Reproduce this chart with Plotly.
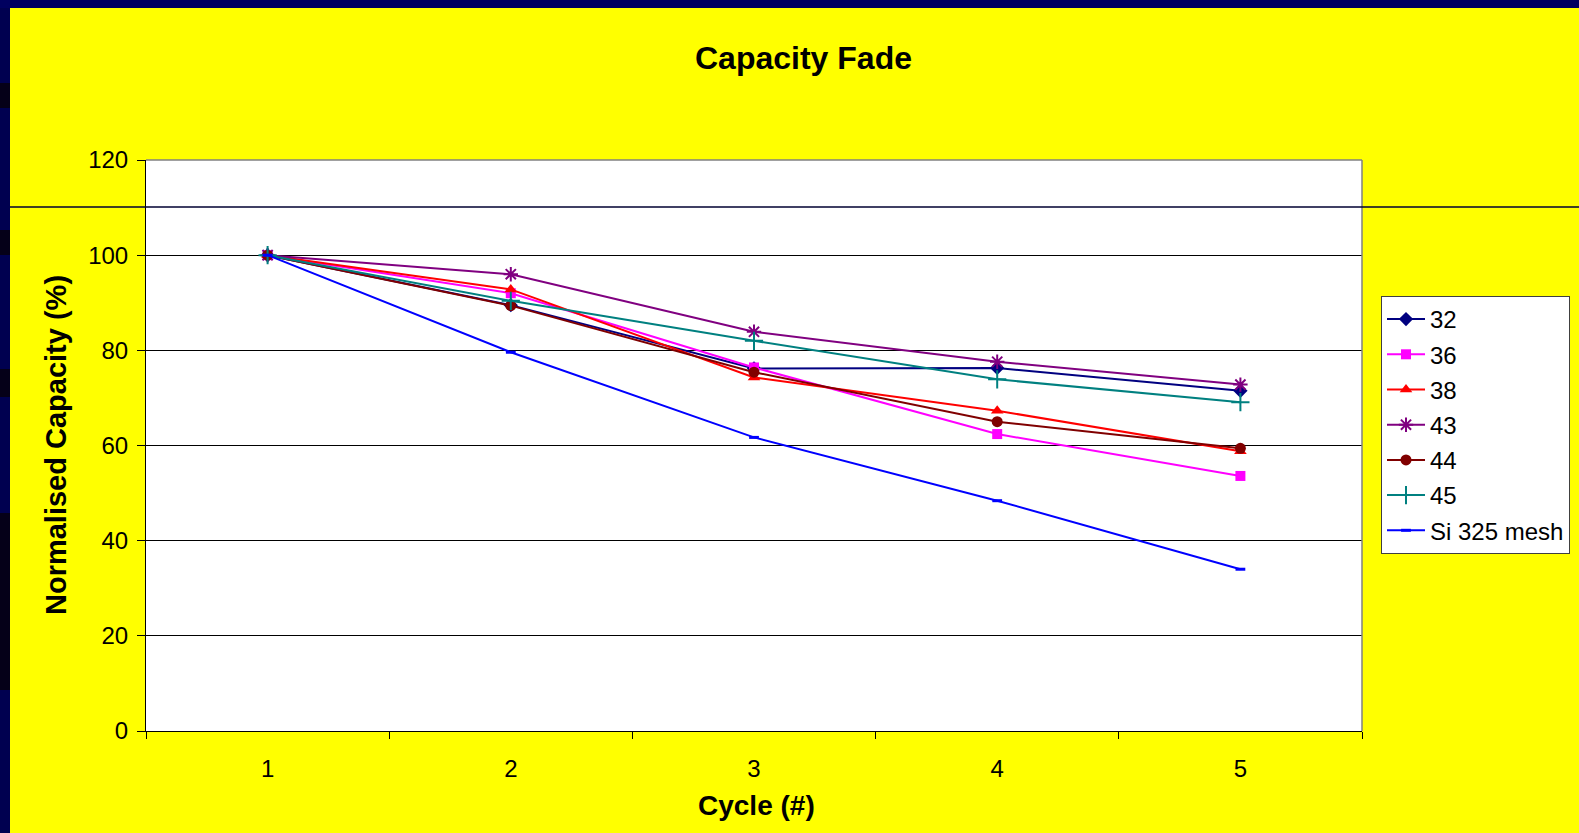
import plotly.graph_objects as go

cycles = [1, 2, 3, 4, 5]
series_names = ["32", "36", "38", "43", "44", "45", "Si 325 mesh"]
s32 = [100, 89.5, 76.2, 76.3, 71.5]
s36 = [100, 92.0, 76.4, 62.4, 53.6]
s38 = [100, 92.8, 74.3, 67.3, 58.8]
s43 = [100, 96.0, 83.9, 77.6, 72.8]
s44 = [100, 89.4, 75.4, 65.0, 59.4]
s45 = [100, 90.4, 82.0, 73.9, 69.1]
si325 = [100, 79.6, 61.7, 48.4, 34.0]
y_ticks = [0, 20, 40, 60, 80, 100, 120]

values = [s32, s36, s38, s43, s44, s45, si325]
colors = ["#000080", "#FF00FF", "#FF0000", "#800080", "#800000", "#008080", "#0000FF"]
markers = [
    dict(symbol="diamond", size=11),
    dict(symbol="square", size=10),
    dict(symbol="triangle-up", size=11),
    dict(symbol="asterisk-open", size=12, line=dict(width=2)),
    dict(symbol="circle", size=11),
    dict(symbol="cross-thin-open", size=13, line=dict(width=2)),
    dict(symbol="line-ew-open", size=7, line=dict(width=3)),
]

W, H = 1579, 833
L, R, T, B = 146, 1362, 160, 731
pw, ph = R - L, B - T

def px_x(x):
    return (x - L) / pw

def px_y(y):
    return (B - y) / ph

FONT = "Arial, Liberation Sans, sans-serif"

fig = go.Figure()
for name, vals, col, mk in zip(series_names, values, colors, markers):
    m = dict(mk)
    m["color"] = col
    if "line" in m:
        m["line"] = dict(m["line"], color=col)
    fig.add_trace(go.Scatter(
        x=cycles, y=vals, name=name, mode="lines+markers", legendgroup=name,
        line=dict(color=col, width=2), marker=m,
    ))

shapes = [
    # navy slide border
    dict(type="rect", xref="paper", yref="paper", x0=px_x(-5), x1=px_x(10), y0=px_y(H + 5), y1=px_y(-5),
         fillcolor="#000050", line=dict(width=0), layer="below"),
    dict(type="rect", xref="paper", yref="paper", x0=px_x(-5), x1=px_x(W + 5), y0=px_y(8), y1=px_y(-5),
         fillcolor="#00005F", line=dict(width=0), layer="below"),
]
for y0, y1 in [(83, 108), (230, 255), (369, 397), (513, 690)]:
    shapes.append(dict(type="rect", xref="paper", yref="paper", x0=px_x(-5), x1=px_x(10),
                       y0=px_y(y1), y1=px_y(y0), fillcolor="#050018", line=dict(width=0), layer="below"))
# plot area grey border (top, right)
shapes.append(dict(type="line", xref="paper", yref="paper", x0=0, x1=1, y0=1, y1=1,
                   line=dict(color="#808080", width=1.5), layer="above"))
shapes.append(dict(type="line", xref="paper", yref="paper", x0=1, x1=1, y0=0, y1=1,
                   line=dict(color="#808080", width=1.5), layer="above"))
# horizontal slide line
shapes.append(dict(type="line", xref="paper", yref="paper", x0=px_x(10), x1=px_x(W + 5),
                   y0=px_y(207), y1=px_y(207), line=dict(color="#000030", width=1.5), layer="above"))

annotations = [
    dict(text="<b>Capacity Fade</b>", xref="paper", yref="paper", x=px_x(803), y=px_y(58),
         xanchor="center", yanchor="middle", showarrow=False, font=dict(family=FONT, size=32, color="black")),
    dict(text="<b>Cycle (#)</b>", xref="paper", yref="paper", x=px_x(756), y=px_y(805),
         xanchor="center", yanchor="middle", showarrow=False, font=dict(family=FONT, size=28, color="black")),
    dict(text="<b>Normalised Capacity (%)</b>", xref="paper", yref="paper", x=px_x(56), y=px_y(445),
         xanchor="center", yanchor="middle", textangle=-90, showarrow=False,
         font=dict(family=FONT, size=29, color="black")),
]

fig.update_layout(
    width=W, height=H,
    margin=dict(l=L, r=W - R, t=T, b=H - B, pad=0, autoexpand=False),
    paper_bgcolor="#FFFF00",
    plot_bgcolor="#FFFFFF",
    font=dict(family=FONT, size=24, color="black"),
    showlegend=True,
    legend=dict(x=px_x(1381), y=px_y(296), xanchor="left", yanchor="top",
                bgcolor="white", bordercolor="#404040", borderwidth=1, tracegroupgap=1,
                font=dict(family=FONT, size=24, color="black"), itemwidth=38),
    shapes=shapes,
    annotations=annotations,
)
fig.update_xaxes(
    range=[0.5, 5.5], tickmode="array", tickvals=cycles, ticktext=[str(c) for c in cycles],
    ticks="", showgrid=False, zeroline=False, showline=True, linecolor="black", linewidth=1,
    ticklabelstandoff=16,
    minor=dict(tickmode="linear", tick0=0.5, dtick=1, ticks="outside", ticklen=7, tickcolor="black",
               tickwidth=1, showgrid=False),
)
fig.update_yaxes(
    range=[0, 120], tickmode="array", tickvals=y_ticks, ticks="outside", ticklen=8, tickcolor="black",
    showgrid=True, gridcolor="black", gridwidth=1, zeroline=False, showline=True, linecolor="black",
    linewidth=1, ticklabelstandoff=4,
)

fig.write_html(
    "out.html",
    config={"displayModeBar": False},
    post_script="document.body.style.margin='0px';document.body.style.background='#000050';",
)
